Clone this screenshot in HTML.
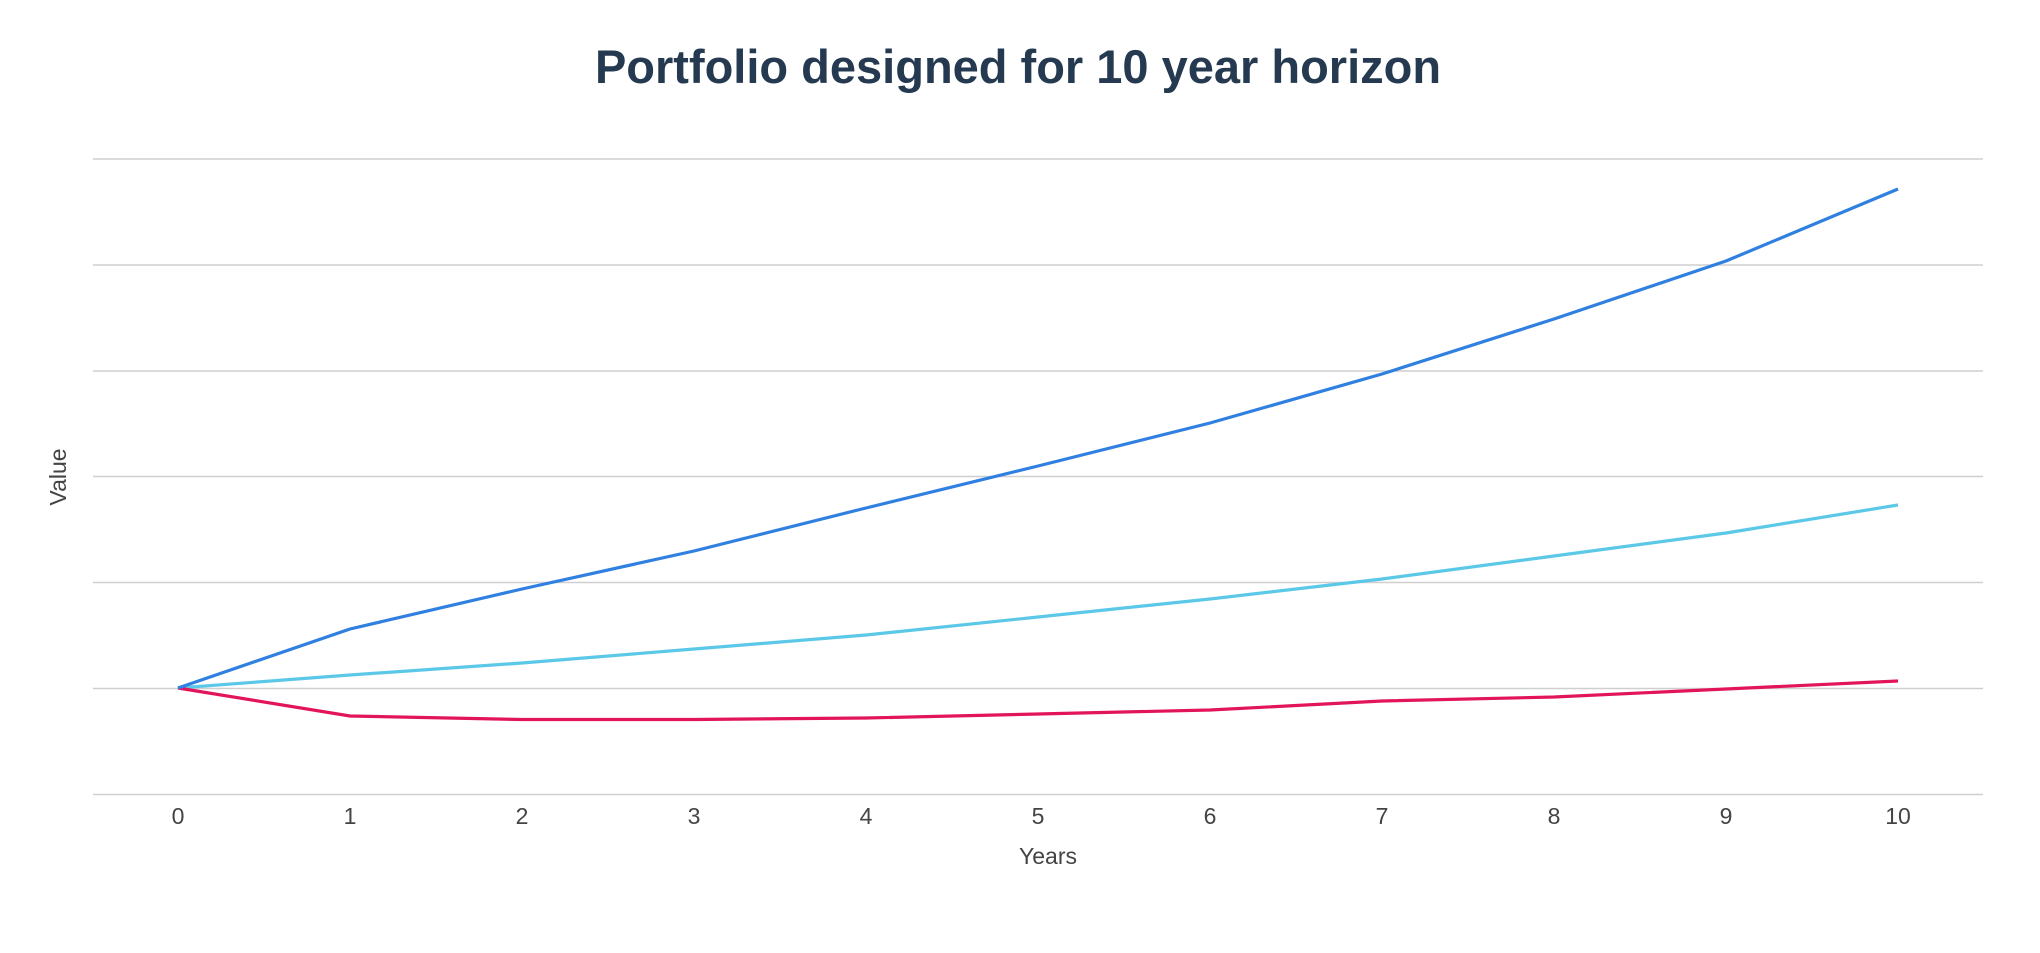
<!DOCTYPE html>
<html><head><meta charset="utf-8"><style>
html,body{margin:0;padding:0;background:#fff;}
</style></head><body>
<svg width="2040" height="948" xmlns="http://www.w3.org/2000/svg" font-family="Liberation Sans, sans-serif">
<rect width="2040" height="948" fill="#fff"/>
<text x="1018" y="83" text-anchor="middle" font-size="47" font-weight="bold" fill="#253a50">Portfolio designed for 10 year horizon</text>
<g stroke="#cfcfcf" stroke-width="1.6">
<line x1="93" x2="1983" y1="159" y2="159"/>
<line x1="93" x2="1983" y1="265" y2="265"/>
<line x1="93" x2="1983" y1="371" y2="371"/>
<line x1="93" x2="1983" y1="476.5" y2="476.5"/>
<line x1="93" x2="1983" y1="582.5" y2="582.5"/>
<line x1="93" x2="1983" y1="688.5" y2="688.5"/>
<line x1="93" x2="1983" y1="794.5" y2="794.5"/>
</g>
<g font-size="23" fill="#444" text-anchor="middle">
<text x="178" y="824">0</text><text x="350" y="824">1</text><text x="522" y="824">2</text><text x="694" y="824">3</text><text x="866" y="824">4</text><text x="1038" y="824">5</text><text x="1210" y="824">6</text><text x="1382" y="824">7</text><text x="1554" y="824">8</text><text x="1726" y="824">9</text><text x="1898" y="824">10</text>
<text x="1048" y="864">Years</text>
<text transform="translate(66,477) rotate(-90)">Value</text>
</g>
<g fill="none" stroke-width="3.2" stroke-linejoin="round">
<polyline stroke="#5bc8e8" points="178,688 350,675 522,663 694,649 866,635 1038,617 1210,599 1382,579 1554,556 1726,533 1898,505"/>
<polyline stroke="#e3155a" points="178,688 350,716 522,719.5 694,719.5 866,718 1038,714 1210,710 1382,701 1554,697 1726,689 1898,681"/>
<polyline stroke="#2f80e0" points="178,688 350,629 522,589 694,551 866,508 1038,466 1210,423 1382,374 1554,319 1726,261 1898,189"/>
</g>
</svg>
</body></html>
